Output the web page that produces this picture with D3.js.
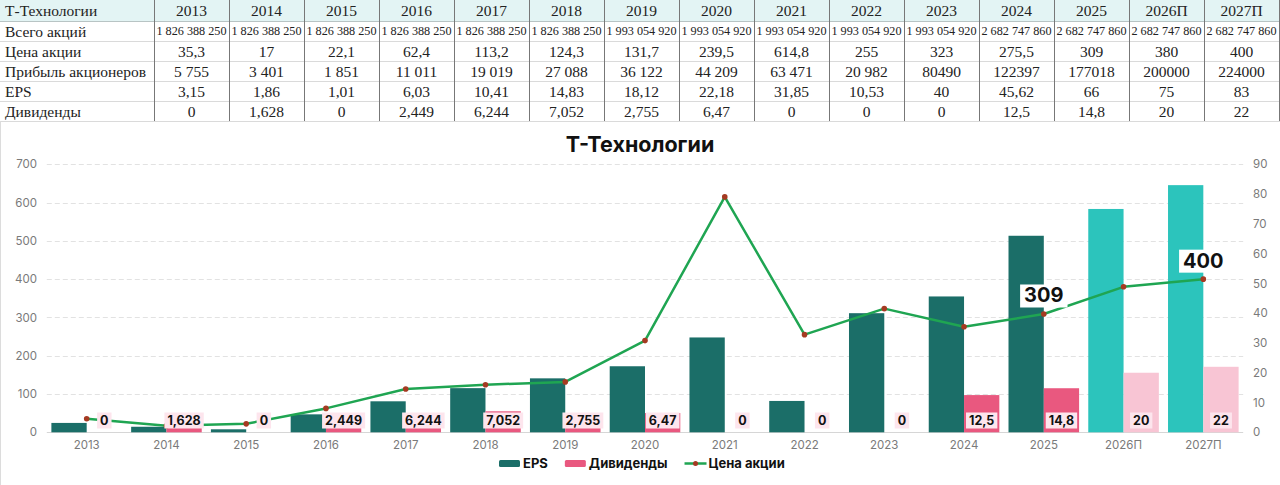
<!DOCTYPE html>
<html>
<head>
<meta charset="utf-8">
<script src="https://cdn.jsdelivr.net/npm/d3@7"></script>
<style>
  html, body { margin: 0; padding: 0; background: #fff; }
  svg { display: block; }
</style>
</head>
<body>
<svg id="chart" width="1280" height="485"></svg>
<script>
// ---------- DATA ----------
const years = ['2013','2014','2015','2016','2017','2018','2019','2020','2021','2022','2023','2024','2025','2026П','2027П'];
const shares = [1826388250,1826388250,1826388250,1826388250,1826388250,1826388250,1993054920,1993054920,1993054920,1993054920,1993054920,2682747860,2682747860,2682747860,2682747860];
const price = [35.3,17,22.1,62.4,113.2,124.3,131.7,239.5,614.8,255,323,275.5,309,380,400];
const profitLabels = ['5 755','3 401','1 851','11 011','19 019','27 088','36 122','44 209','63 471','20 982','80490','122397','177018','200000','224000'];
const eps = [3.15,1.86,1.01,6.03,10.41,14.83,18.12,22.18,31.85,10.53,40,45.62,66,75,83];
const dividends = [0,1.628,0,2.449,6.244,7.052,2.755,6.47,0,0,0,12.5,14.8,20,22];
const rowNames = ['Всего акций','Цена акции','Прибыль акционеров','EPS','Дивиденды'];
const tableTitle = 'Т-Технологии';
const chartTitle = 'Т-Технологии';
const leftTicks = [0,100,200,300,400,500,600,700];
const rightTicks = [0,10,20,30,40,50,60,70,80,90];
const priceLabelYears = ['2025','2027П'];
const legendNames = ['EPS','Дивиденды','Цена акции'];

// ---------- helpers ----------
const comma = v => String(v).replace('.', ',');
const spaced = v => String(v).replace(/\B(?=(\d{3})+(?!\d))/g, ' ');
const isForecast = y => y.endsWith('П');

const svg = d3.select('#chart');

// ---------- TABLE ----------
const tbl = svg.append('g');
const firstColW = 154, colW = 75, rowH = 20, headH = 21;
const colX = d3.scaleBand().domain(years).range([firstColW, firstColW + colW * years.length]);
const tableRows = [
  shares.map(spaced),
  price.map(comma),
  profitLabels,
  eps.map(comma),
  dividends.map(comma)
];
const rowY = i => headH + rowH * i;
const tableBottom = headH + rowH * rowNames.length;

tbl.append('rect').attr('x', 0).attr('y', 0).attr('width', 1280).attr('height', headH).attr('fill', '#e3f4f4');
d3.range(rowNames.length + 1).forEach(i => {
  tbl.append('line').attr('x1', 0).attr('x2', 1280)
    .attr('y1', rowY(i) + 0.5).attr('y2', rowY(i) + 0.5)
    .attr('stroke', i === 0 ? '#b8c4c4' : '#dadada').attr('stroke-width', 1);
});
[firstColW].concat(years.map(y => colX(y) + colW)).forEach(xx => {
  tbl.append('line').attr('x1', xx + 0.5).attr('x2', xx + 0.5)
    .attr('y1', 0).attr('y2', tableBottom)
    .attr('stroke', '#777').attr('stroke-width', 1);
});
const serif = "'Liberation Serif', 'DejaVu Serif', serif";
const fs = 15.5;
tbl.append('text').attr('x', 5).attr('y', headH / 2 + 5.5)
  .attr('font-family', serif).attr('font-size', fs).attr('fill', '#222').text(tableTitle);
tbl.selectAll('text.yr').data(years).join('text').attr('class', 'yr')
  .attr('x', d => colX(d) + colW / 2).attr('y', headH / 2 + 5.5)
  .attr('text-anchor', 'middle').attr('font-family', serif).attr('font-size', fs).attr('fill', '#222')
  .text(d => d);
rowNames.forEach((name, i) => {
  const cy = rowY(i) + rowH / 2 + 5.5;
  tbl.append('text').attr('x', 5).attr('y', cy)
    .attr('font-family', serif).attr('font-size', fs).attr('fill', '#222').text(name);
  tbl.selectAll('text.r' + i).data(tableRows[i]).join('text').attr('class', 'r' + i)
    .attr('x', (d, j) => colX(years[j]) + colW / 2)
    .attr('y', i === 0 ? cy - 1.5 : cy)
    .attr('text-anchor', 'middle').attr('font-family', serif)
    .attr('font-size', i === 0 ? 12.2 : fs).attr('fill', '#222')
    .text(d => d);
});

svg.append('line').attr('x1', 0.5).attr('x2', 0.5).attr('y1', tableBottom).attr('y2', 485)
  .attr('stroke', '#dcdcdc').attr('stroke-width', 1);

// ---------- CHART ----------
const sans = "Inter, Roboto, 'Noto Sans', sans-serif";
const x = d3.scaleBand().domain(years).range([46.8, 1243.2]).paddingInner(0).paddingOuter(0);
const xSub = d3.scaleBand().domain(['eps', 'div']).range([0, x.bandwidth()]).paddingInner(0).paddingOuter(0.13);
const yL = d3.scaleLinear().domain([0, 700]).range([432.3, 164.3]);
const yR = d3.scaleLinear().domain([0, 90]).range([432.3, 164.3]);

const chart = svg.append('g');

chart.append('text').attr('x', 640).attr('y', 151.5).attr('text-anchor', 'middle')
  .attr('font-family', sans).attr('font-weight', 700).attr('font-size', 21.5).attr('fill', '#111')
  .text(chartTitle);

chart.append('g').selectAll('line').data(leftTicks).join('line')
  .attr('x1', 46.8).attr('x2', 1243.2)
  .attr('y1', d => Math.round(yL(d)) + 0.5).attr('y2', d => Math.round(yL(d)) + 0.5)
  .attr('stroke', d => d === 0 ? '#d6d6d6' : '#e2e2e2')
  .attr('stroke-dasharray', d => d === 0 ? null : '5,3')
  .attr('stroke-width', 1);

const axL = chart.append('g').attr('transform', 'translate(40,0)')
  .call(d3.axisLeft(yL).tickValues(leftTicks).tickSize(0).tickPadding(3));
const axR = chart.append('g').attr('transform', 'translate(1250,0)')
  .call(d3.axisRight(yR).tickValues(rightTicks).tickSize(0).tickPadding(3));
const axB = chart.append('g').attr('transform', 'translate(0,436)')
  .call(d3.axisBottom(x).tickSize(0).tickPadding(5));
[axL, axR, axB].forEach(a => {
  a.select('.domain').remove();
  a.selectAll('text').attr('font-family', sans).attr('font-size', 11.5).attr('fill', '#7a7a7a');
});

chart.append('g').selectAll('rect').data(years).join('rect')
  .attr('x', (d) => x(d) + xSub('eps'))
  .attr('width', xSub.bandwidth())
  .attr('y', (d, i) => yR(eps[i]))
  .attr('height', (d, i) => yR(0) - yR(eps[i]))
  .attr('fill', d => isForecast(d) ? '#2cc4bc' : '#1b6e68');

chart.append('g').selectAll('rect').data(years).join('rect')
  .attr('x', (d) => x(d) + xSub('div'))
  .attr('width', xSub.bandwidth())
  .attr('y', (d, i) => yR(dividends[i]))
  .attr('height', (d, i) => yR(0) - yR(dividends[i]))
  .attr('fill', d => isForecast(d) ? '#f8c5d4' : '#e9587f');

const cx = d => x(d) + x.bandwidth() / 2;
const line = d3.line().x((d, i) => cx(years[i])).y(d => yL(d));
chart.append('path').datum(price).attr('d', line)
  .attr('fill', 'none').attr('stroke', '#1fa552').attr('stroke-width', 2.5).attr('stroke-linejoin', 'round');
chart.append('g').selectAll('circle').data(price).join('circle')
  .attr('cx', (d, i) => cx(years[i])).attr('cy', d => yL(d)).attr('r', 2.8)
  .attr('fill', '#a53a22');

const dlg = chart.append('g');
years.forEach((yr, i) => {
  const g = dlg.append('g');
  const tx = x(yr) + xSub('div') + xSub.bandwidth() / 2;
  const t = g.append('text').attr('x', tx).attr('y', 425)
    .attr('text-anchor', 'middle').attr('font-family', sans).attr('font-weight', 700)
    .attr('font-size', 12.5).attr('fill', '#111').text(comma(dividends[i]));
  const bb = t.node().getBBox();
  g.insert('rect', 'text').attr('x', bb.x - 3).attr('y', 412.5).attr('width', bb.width + 6).attr('height', 16)
    .attr('fill', '#fde5ed');
});

priceLabelYears.forEach(yr => {
  const i = years.indexOf(yr);
  const g = chart.append('g');
  const t = g.append('text').attr('x', cx(yr)).attr('y', yL(price[i]) - 11.5)
    .attr('text-anchor', 'middle').attr('font-family', sans).attr('font-weight', 700)
    .attr('font-size', 20).attr('fill', '#111').text(comma(price[i]));
  const bb = t.node().getBBox();
  g.insert('rect', 'text').attr('x', bb.x - 4).attr('y', bb.y + 1).attr('width', bb.width + 8).attr('height', bb.height - 1)
    .attr('fill', '#fff');
});

const lg = chart.append('g');
const legY = 463.5;
let lx = 499;
legendNames.forEach((name, k) => {
  if (k < 2) {
    lg.append('rect').attr('x', lx).attr('y', legY - 3.5).attr('width', 21).attr('height', 7).attr('rx', 1.5)
      .attr('fill', k === 0 ? '#1b6e68' : '#e9587f');
  } else {
    lg.append('line').attr('x1', lx).attr('x2', lx + 22).attr('y1', legY).attr('y2', legY)
      .attr('stroke', '#1fa552').attr('stroke-width', 2.5);
    lg.append('circle').attr('cx', lx + 11).attr('cy', legY).attr('r', 2.5).attr('fill', '#a53a22');
  }
  const t = lg.append('text').attr('x', lx + 24).attr('y', legY + 4.8)
    .attr('font-family', sans).attr('font-weight', 700).attr('font-size', 13).attr('fill', '#111').text(name);
  lx = lx + 24 + t.node().getComputedTextLength() + 17;
});
</script>
</body>
</html>
